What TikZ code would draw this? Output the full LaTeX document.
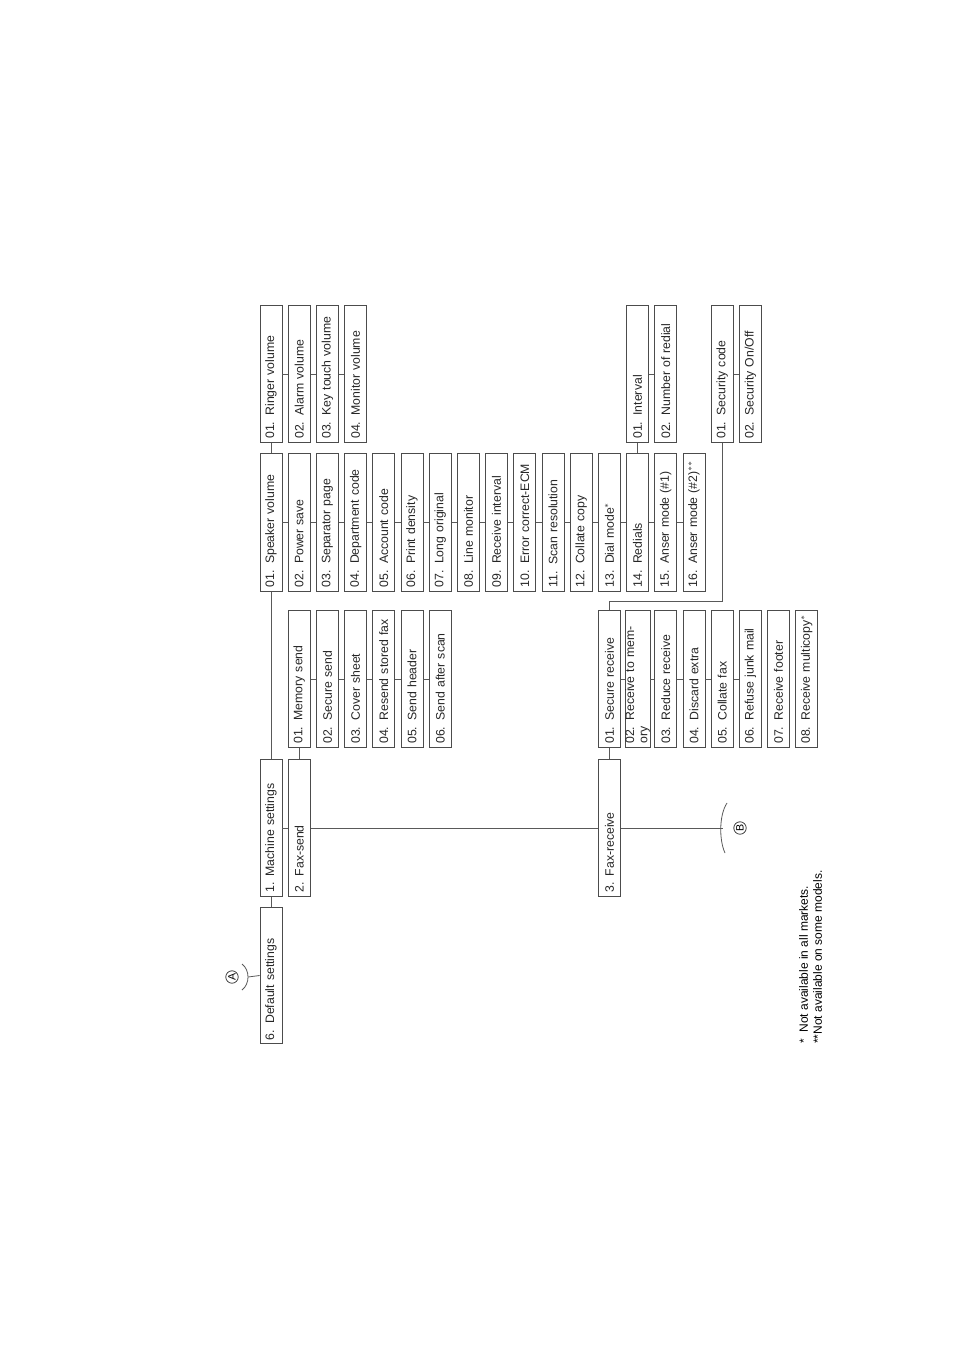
\documentclass[tikz,border=0pt]{standalone}
\usepackage{fontspec}
\setmainfont{Liberation Sans}
\begin{document}
\begin{tikzpicture}[x=0.75pt,y=-0.75pt,
  bx/.style={draw=black!70,line width=0.6pt,rotate=90,minimum width=103pt,minimum height=16.5pt,
    inner xsep=2.5pt,inner ysep=0pt,text width=97pt,align=left,font=\fontsize{9.2}{10}\selectfont,text=black!85},
  cn/.style={draw=black!65,line width=0.6pt},
  lbl/.style={font=\fontsize{9.5}{10}\selectfont}]
\useasboundingbox (0,0) rectangle (954,1351);
\def\cx#1{271+28.2*#1}
% level 1
\node[bx,minimum width=101pt] (ds) at (271,975.5) {6. Default settings};
\node[bx] (ms) at ({\cx{0}},828) {1. Machine settings};
\node[bx] (fs) at ({\cx{1}},828) {2. Fax-send};
\node[bx] (fr) at ({\cx{12}},828) {3. Fax-receive};
% level 2 (machine settings)
\foreach \i/\t in {0/{01. Speaker volume},1/{02. Power save},2/{03. Separator page},3/{04. Department code},
  4/{05. Account code},5/{06. Print density},6/{07. Long original},7/{08. Line monitor},
  8/{09. Receive interval},9/{10. Error correct-ECM},10/{11. Scan resolution},11/{12. Collate copy},
  12/{13. Dial mode$^*$},13/{14. Redials},14/{15. Anser mode (\#1)},15/{16. Anser mode (\#2)$^{**}$}}
  \node[bx] (m\i) at ({\cx{\i}},522.5) {\t};
\foreach \a/\b in {0/1,1/2,2/3,3/4,4/5,5/6,6/7,7/8,8/9,9/10,10/11,11/12,12/13,13/14,14/15}
  \draw[cn] (m\a.south) -- (m\b.north);
% level 3
\foreach \i/\t in {0/{01. Ringer volume},1/{02. Alarm volume},2/{03. Key touch volume},3/{04. Monitor volume}}
  \node[bx] (v\i) at ({\cx{\i}},374) {\t};
\foreach \a/\b in {0/1,1/2,2/3} \draw[cn] (v\a.south) -- (v\b.north);
\node[bx] (rd1) at ({\cx{13}},374) {01. Interval};
\node[bx] (rd2) at ({\cx{14}},374) {02. Number of redial};
\draw[cn] (rd1.south) -- (rd2.north);
\node[bx] (sc1) at ({\cx{16}},374) {01. Security code};
\node[bx] (sc2) at ({\cx{17}},374) {02. Security On/Off};
\draw[cn] (sc1.south) -- (sc2.north);
% fax-send children
\foreach \i/\t in {1/{01. Memory send},2/{02. Secure send},3/{03. Cover sheet},4/{04. Resend stored fax},
  5/{05. Send header},6/{06. Send after scan}}
  \node[bx] (s\i) at ({\cx{\i}},679) {\t};
\foreach \a/\b in {1/2,2/3,3/4,4/5,5/6} \draw[cn] (s\a.south) -- (s\b.north);
% fax-receive children
\foreach \i/\t in {12/{01. Secure receive},13/{02. Receive to memory},14/{03. Reduce receive},15/{04. Discard extra},
  16/{05. Collate fax},17/{06. Refuse junk mail},18/{07. Receive footer},19/{08. Receive multicopy$^*$}}
  \node[bx] (r\i) at ({\cx{\i}},679) {\t};
\foreach \a/\b in {12/13,13/14,14/15,15/16,16/17} \draw[cn] (r\a.south) -- (r\b.north);
% connectors
\draw[cn] (ds.east) -- (ms.west);
\draw[cn] (ms.east) -- (m0.west);
\draw[cn] (m0.east) -- (v0.west);
\draw[cn] (ms.south) -- (fs.north);
\draw[cn] (fs.south) -- (fr.north);
\draw[cn] (fs.east) -- (s1.west);
\draw[cn] (fr.east) -- (r12.west);
\draw[cn] (m13.east) -- (rd1.west);
\coordinate (jn) at (0,601);
\draw[cn] (r12.east) -- (r12.east |- jn) -| (sc1.west);
% A and B
\node[circle,draw=black!75,line width=0.6pt,inner sep=0.6pt,font=\fontsize{8}{8}\selectfont,rotate=90] (A) at (232,977) {A};
\coordinate (Ab) at (248,977);
\draw[cn] (Ab) -- (ds.north);
\draw[cn] (242,964) .. controls (250,970) and (250,984) .. (242,990);
\coordinate (Bb) at (723,828);
\draw[cn] (fr.south) -- (Bb);
\node[circle,draw=black!75,line width=0.6pt,inner sep=0.6pt,font=\fontsize{8}{8}\selectfont,rotate=90] (B) at (740,828) {B};
\draw[cn] (727,803) .. controls (719,815) and (719,840) .. (725,853);
% footnotes
\node[rotate=90,anchor=north west,align=left,font=\fontsize{9}{10.5}\selectfont,inner sep=0pt] (fn) at (799,1044)
  {*\ \ Not available in all markets.\\**Not available on some models.};
\end{tikzpicture}
\end{document}
